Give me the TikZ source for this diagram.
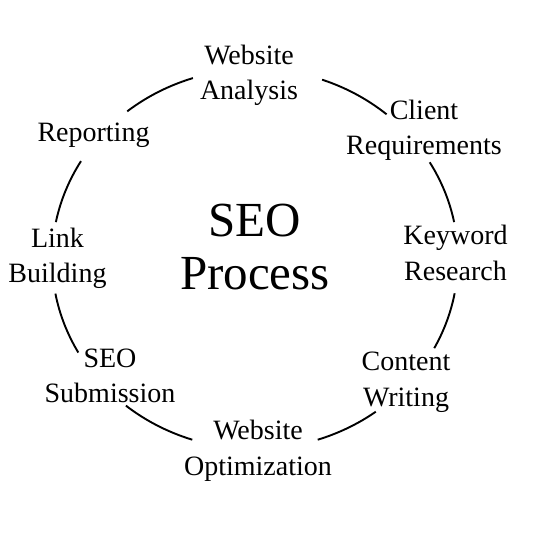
\documentclass[tikz,border=0pt]{standalone}
\usepackage{fontspec}
\setmainfont{Liberation Serif}
\usetikzlibrary{calc}
\newcommand{\mylines}[2]{\begin{tabular}[t]{@{}c@{}}#1\\#2\end{tabular}}
\tikzset{
  lbl/.style={anchor=base, inner sep=0pt, font=\fontsize{28}{35.5}\selectfont},
  title/.style={anchor=base, inner sep=0pt, font=\fontsize{49}{53.3}\selectfont},
  arcline/.style={draw=black, line width=1.9pt},
}
\begin{document}
\begin{tikzpicture}[x=1pt,y=1pt]
\useasboundingbox (0,0) rectangle (533,533);
\fill[white] (0,0) rectangle (533,533);
\coordinate (c) at (255,274);
% labels
\node[lbl] (wa) at (249,468.7) {\mylines{Website}{Analysis}};
\node[lbl] (cr) at (424,413.7) {\mylines{Client}{Requirements}};
\node[lbl] (rep) at (93.5,391.3) {Reporting};
\node[lbl] (kr) at (455.5,288) {\mylines{Keyword}{Research}};
\node[lbl] (lb) at (57.5,285.7) {\mylines{Link}{Building}};
\node[title] (seo) at (255,296.3) {\mylines{SEO}{Process}};
\node[lbl] (ss) at (110,165.7) {\mylines{SEO}{Submission}};
\node[lbl] (cw) at (406,162.3) {\mylines{Content}{Writing}};
\node[lbl] (wo) at (258,93) {\mylines{Website}{Optimization}};
% arc start points
\coordinate (s1) at ($(c)+(107.8:203 and 190)$);
\coordinate (s2) at ($(c)+(70.7:203 and 190)$);
\coordinate (s3) at ($(c)+(30.6:203 and 190)$);
\coordinate (s4) at ($(c)+(149:203 and 190)$);
\coordinate (s5) at ($(c)+(190.5:203 and 190)$);
\coordinate (s6) at ($(c)+(-10.4:203 and 190)$);
\coordinate (s7) at ($(c)+(230.5:203 and 190)$);
\coordinate (s8) at ($(c)+(-53.5:203 and 190)$);
% connectors
\draw[arcline] (s1) arc[start angle=107.8, end angle=129, x radius=203, y radius=190];
\draw[arcline] (s2) arc[start angle=70.7, end angle=49.6, x radius=203, y radius=190];
\draw[arcline] (s3) arc[start angle=30.6, end angle=11.2, x radius=203, y radius=190];
\draw[arcline] (s4) arc[start angle=149, end angle=168.8, x radius=203, y radius=190];
\draw[arcline] (s5) arc[start angle=190.5, end angle=209.5, x radius=203, y radius=190];
\draw[arcline] (s6) arc[start angle=-10.4, end angle=-28, x radius=203, y radius=190];
\draw[arcline] (s7) arc[start angle=230.5, end angle=252, x radius=203, y radius=190];
\draw[arcline] (s8) arc[start angle=-53.5, end angle=-72, x radius=203, y radius=190];
\end{tikzpicture}
\end{document}
